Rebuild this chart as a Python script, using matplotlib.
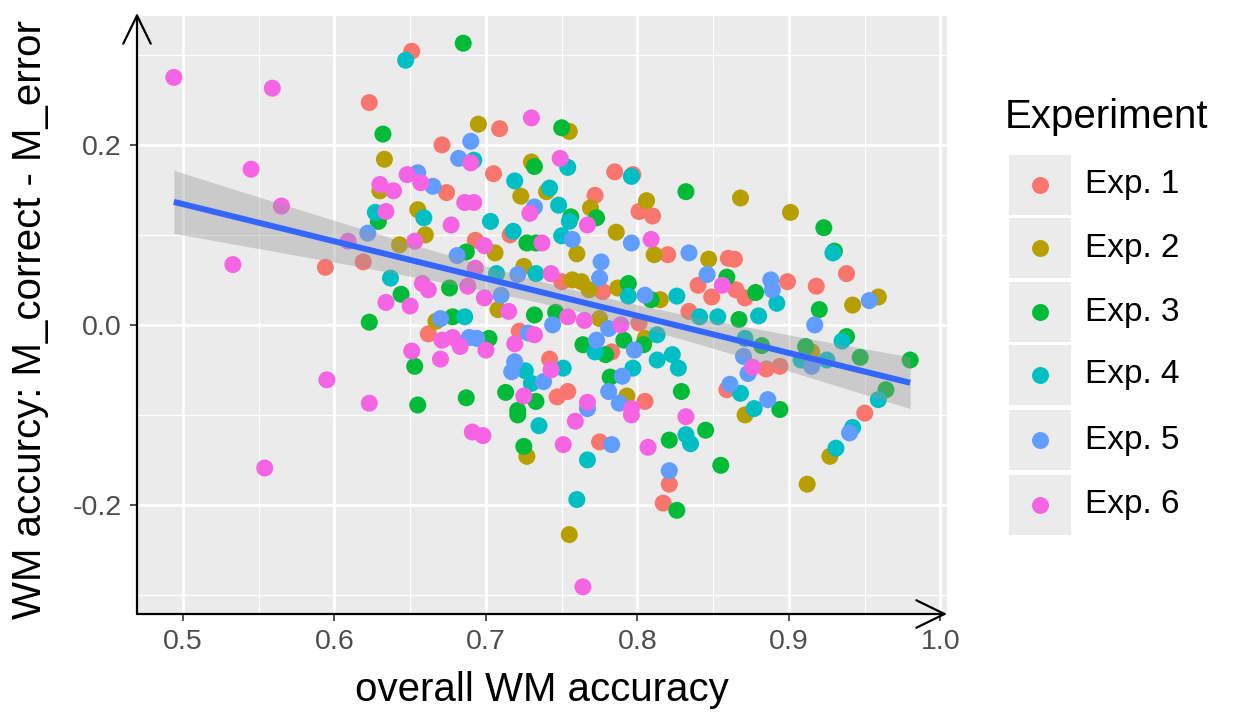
import numpy as np
import matplotlib
matplotlib.use("Agg")
import matplotlib.pyplot as plt
from matplotlib.patches import Rectangle
from matplotlib.lines import Line2D

plt.rcParams['font.family'] = ['Liberation Sans', 'DejaVu Sans']

# ---------------- data ----------------
experiments = ["Exp. 1", "Exp. 2", "Exp. 3", "Exp. 4", "Exp. 5", "Exp. 6"]
colors = ["#F8766D", "#B79F00", "#00BA38", "#00BFC4", "#619CFF", "#F564E3"]

exp1_x = [0.594, 0.651, 0.623, 0.709, 0.671, 0.705, 0.674, 0.785, 0.797, 0.772, 0.801, 0.810, 0.864, 0.938, 0.918,
          0.899, 0.871, 0.865, 0.950, 0.885, 0.894, 0.775, 0.821, 0.817, 0.716, 0.619, 0.693, 0.662, 0.722, 0.820,
          0.860, 0.750, 0.777, 0.840, 0.849, 0.801, 0.834, 0.783, 0.742, 0.747, 0.754, 0.805, 0.859]
exp1_y = [0.064, 0.304, 0.247, 0.218, 0.200, 0.168, 0.147, 0.170, 0.167, 0.144, 0.126, 0.121, 0.073, 0.057, 0.043,
          0.048, 0.030, 0.039, -0.098, -0.049, -0.046, -0.130, -0.177, -0.198, 0.100, 0.070, 0.094, -0.010, -0.007, 0.078,
          0.074, 0.048, 0.037, 0.044, 0.031, 0.002, 0.015, -0.030, -0.038, -0.080, -0.074, -0.085, -0.072]

exp2_x = [0.695, 0.633, 0.630, 0.723, 0.655, 0.730, 0.755, 0.868, 0.740, 0.769, 0.806, 0.901, 0.942, 0.959, 0.915,
          0.871, 0.927, 0.912, 0.755, 0.727, 0.660, 0.643, 0.706, 0.725, 0.708, 0.667, 0.786, 0.760, 0.811, 0.847,
          0.757, 0.763, 0.768, 0.787, 0.815, 0.775, 0.805, 0.793]
exp2_y = [0.223, 0.184, 0.149, 0.143, 0.128, 0.181, 0.215, 0.141, 0.148, 0.130, 0.138, 0.125, 0.022, 0.031, -0.030,
          -0.100, -0.146, -0.177, -0.233, -0.146, 0.100, 0.089, 0.080, 0.065, 0.017, 0.004, 0.103, 0.079, 0.078, 0.073,
          0.050, 0.048, 0.039, 0.041, 0.028, 0.007, -0.015, -0.079]

exp3_x = [0.685, 0.632, 0.732, 0.750, 0.832, 0.773, 0.756, 0.923, 0.930, 0.878, 0.867, 0.920, 0.938, 0.911, 0.947,
          0.980, 0.964, 0.894, 0.882, 0.821, 0.845, 0.855, 0.826, 0.725, 0.721, 0.629, 0.727, 0.733, 0.687, 0.676,
          0.644, 0.732, 0.623, 0.678, 0.702, 0.653, 0.713, 0.733, 0.687, 0.655, 0.721, 0.794, 0.809, 0.859, 0.746,
          0.764, 0.779, 0.791, 0.804, 0.782, 0.829]
exp3_y = [0.313, 0.212, 0.176, 0.219, 0.148, 0.119, 0.120, 0.108, 0.082, 0.036, 0.006, 0.017, -0.013, -0.024, -0.036,
          -0.039, -0.072, -0.094, -0.023, -0.128, -0.117, -0.156, -0.206, -0.135, -0.100, 0.115, 0.091, 0.091, 0.081, 0.041,
          0.034, 0.011, 0.003, 0.009, -0.015, -0.046, -0.075, -0.085, -0.081, -0.089, -0.095, 0.046, 0.028, 0.053, 0.014,
          -0.022, -0.033, -0.017, -0.022, -0.058, -0.074]

exp4_x = [0.647, 0.692, 0.719, 0.627, 0.659, 0.703, 0.754, 0.796, 0.742, 0.748, 0.755, 0.929, 0.892, 0.880, 0.935,
          0.908, 0.925, 0.959, 0.868, 0.877, 0.871, 0.942, 0.931, 0.735, 0.767, 0.760, 0.832, 0.835, 0.718, 0.707,
          0.733, 0.637, 0.686, 0.726, 0.730, 0.750, 0.794, 0.826, 0.841, 0.853, 0.772, 0.813, 0.813, 0.823, 0.827,
          0.797, 0.751]
exp4_y = [0.294, 0.183, 0.160, 0.125, 0.119, 0.115, 0.175, 0.165, 0.152, 0.133, 0.115, 0.080, 0.024, 0.010, -0.018,
          -0.039, -0.039, -0.083, -0.076, -0.093, -0.015, -0.114, -0.137, -0.112, -0.150, -0.194, -0.122, -0.132, 0.104, 0.057,
          0.057, 0.052, 0.009, -0.051, -0.065, 0.099, 0.032, 0.032, 0.009, 0.009, -0.030, -0.011, -0.039, -0.033, -0.048,
          -0.048, -0.048]

exp5_x = [0.690, 0.682, 0.655, 0.665, 0.732, 0.888, 0.889, 0.953, 0.917, 0.915, 0.870, 0.873, 0.886, 0.940, 0.783,
          0.821, 0.622, 0.681, 0.721, 0.710, 0.670, 0.689, 0.694, 0.728, 0.719, 0.717, 0.757, 0.796, 0.834, 0.776,
          0.775, 0.805, 0.846, 0.744, 0.781, 0.773, 0.798, 0.738, 0.790, 0.781, 0.788, 0.767, 0.861]
exp5_y = [0.204, 0.185, 0.169, 0.154, 0.131, 0.050, 0.039, 0.027, 0.000, -0.046, -0.035, -0.054, -0.083, -0.120, -0.133,
          -0.162, 0.102, 0.077, 0.056, 0.033, 0.007, -0.014, -0.015, -0.009, -0.041, -0.052, 0.095, 0.091, 0.080, 0.070,
          0.052, 0.033, 0.056, 0.000, -0.004, -0.017, -0.028, -0.063, -0.057, -0.074, -0.087, -0.093, -0.066]

exp6_x = [0.494, 0.559, 0.545, 0.565, 0.533, 0.595, 0.554, 0.730, 0.690, 0.648, 0.657, 0.630, 0.639, 0.686, 0.692,
          0.634, 0.729, 0.677, 0.749, 0.767, 0.759, 0.751, 0.764, 0.796, 0.807, 0.832, 0.691, 0.698, 0.653, 0.609,
          0.699, 0.693, 0.658, 0.662, 0.688, 0.634, 0.650, 0.699, 0.715, 0.671, 0.678, 0.683, 0.700, 0.719, 0.732,
          0.651, 0.670, 0.725, 0.623, 0.737, 0.809, 0.743, 0.856, 0.754, 0.765, 0.789, 0.743, 0.796, 0.767, 0.876]
exp6_y = [0.275, 0.263, 0.173, 0.132, 0.067, -0.061, -0.159, 0.230, 0.180, 0.167, 0.158, 0.156, 0.149, 0.136, 0.136,
          0.126, 0.124, 0.111, 0.185, 0.111, -0.107, -0.133, -0.291, -0.100, -0.136, -0.102, -0.119, -0.123, 0.093, 0.093,
          0.088, 0.063, 0.046, 0.039, 0.043, 0.025, 0.021, 0.030, 0.015, -0.017, -0.014, -0.024, -0.028, -0.021, -0.011,
          -0.029, -0.038, -0.079, -0.087, 0.091, 0.095, 0.057, 0.044, 0.009, 0.005, 0.000, -0.050, -0.093, -0.086, -0.047]

xs = [exp1_x, exp2_x, exp3_x, exp4_x, exp5_x, exp6_x]
ys = [exp1_y, exp2_y, exp3_y, exp4_y, exp5_y, exp6_y]

x_ticks = [0.5, 0.6, 0.7, 0.8, 0.9, 1.0]
x_ticklabels = ["0.5", "0.6", "0.7", "0.8", "0.9", "1.0"]
y_ticks = [-0.2, 0.0, 0.2]
y_ticklabels = ["-0.2", "0.0", "0.2"]

# ---------------- figure ----------------
W, H = 1236, 716
fig = plt.figure(figsize=(W / 100, H / 100), dpi=100)
fig.patch.set_facecolor("white")

def fx(px):
    return px / W

def fy(py):
    return 1 - py / H

L, R, T, B = 137, 947, 16, 614
ax = fig.add_axes([fx(L), fy(B), fx(R) - fx(L), fy(T) - fy(B)])
ax.set_facecolor("#EBEBEB")

all_x = np.concatenate([np.array(a) for a in xs])
all_y = np.concatenate([np.array(a) for a in ys])
xr = all_x.max() - all_x.min()
yr = all_y.max() - all_y.min()
ax.set_xlim(all_x.min() - 0.05 * xr, all_x.max() + 0.05 * xr)
ax.set_ylim(all_y.min() - 0.05 * yr, all_y.max() + 0.05 * yr)

# grid
for v in [0.55, 0.65, 0.75, 0.85, 0.95]:
    ax.axvline(v, color="white", lw=0.9, zorder=0.5)
for v in [-0.3, -0.1, 0.1, 0.3]:
    ax.axhline(v, color="white", lw=0.9, zorder=0.5)
for v in x_ticks:
    ax.axvline(v, color="white", lw=2.0, zorder=0.6)
for v in y_ticks:
    ax.axhline(v, color="white", lw=2.0, zorder=0.6)

for x, y, c in zip(xs, ys, colors):
    ax.scatter(x, y, s=150, color=c, edgecolors="none", zorder=2)

# linear fit with confidence band
n = len(all_x)
b1, b0 = np.polyfit(all_x, all_y, 1)
resid = all_y - (b0 + b1 * all_x)
s = np.sqrt(np.sum(resid ** 2) / (n - 2))
xbar = all_x.mean()
sxx = np.sum((all_x - xbar) ** 2)
xg = np.linspace(all_x.min(), all_x.max(), 100)
yg = b0 + b1 * xg
se = s * np.sqrt(1 / n + (xg - xbar) ** 2 / sxx)
tq = 1.969
ax.fill_between(xg, yg - tq * se, yg + tq * se, color="#999999", alpha=0.4, lw=0, zorder=3)
ax.plot(xg, yg, color="#3366FF", lw=4.3, zorder=4, solid_capstyle="butt")

ax.set_xticks(x_ticks)
ax.set_xticklabels(x_ticklabels)
ax.set_yticks(y_ticks)
ax.set_yticklabels(y_ticklabels)
ax.tick_params(axis="both", colors="#333333", length=5, width=1.2, labelsize=20.5,
               labelcolor="#4D4D4D", pad=6)
for sp in ax.spines.values():
    sp.set_visible(False)

# arrowed axes
arrow_kw = dict(arrowstyle="->,head_length=0.45,head_width=0.22", lw=1.6, color="black",
                shrinkA=0, shrinkB=0, mutation_scale=45)
ax.annotate("", xy=(0, 1.005), xytext=(0, 0), xycoords="axes fraction",
            textcoords="axes fraction", arrowprops=arrow_kw, annotation_clip=False)
ax.annotate("", xy=(1.0, 0), xytext=(0, 0), xycoords="axes fraction",
            textcoords="axes fraction", arrowprops=arrow_kw, annotation_clip=False)

fig.text(fx(542), fy(690), "overall WM accuracy", fontsize=29, ha="center", va="center")
fig.text(fx(30), fy(320), "WM accurcy: M_correct - M_error", fontsize=29, ha="center",
         va="center", rotation=90)

# legend
fig.text(fx(1005), fy(117), "Experiment", fontsize=29, ha="left", va="center")
key_y = [185, 248, 312, 375, 440, 505]
for i, (lab, c) in enumerate(zip(experiments, colors)):
    yc = key_y[i]
    fig.add_artist(Rectangle((fx(1009), fy(yc + 30)), fx(62), 60 / H, transform=fig.transFigure,
                             facecolor="#EBEBEB", edgecolor="none"))
    fig.add_artist(Line2D([fx(1040)], [fy(yc)], transform=fig.transFigure, marker="o",
                          markersize=12.2, markerfacecolor=c, markeredgecolor="none", linestyle="none"))
    fig.text(fx(1085), fy(yc), lab, fontsize=24, ha="left", va="center")

fig.savefig("out.png", dpi=100)
